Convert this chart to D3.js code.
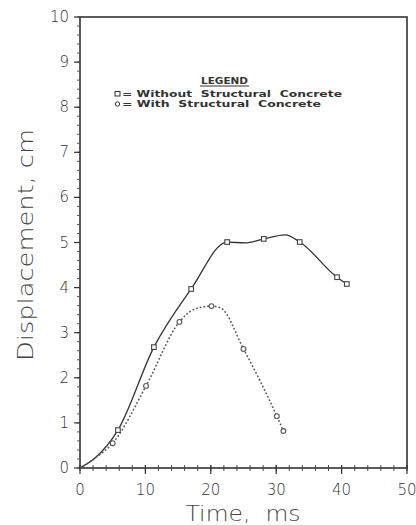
<!DOCTYPE html>
<html>
<head>
<meta charset="utf-8">
<script src="https://cdn.jsdelivr.net/npm/d3@7"></script>
<style>
  body { margin: 0; background: #fff; }
  .tick-label { font-family: 'DejaVu Sans', sans-serif; font-weight: 200; font-size: 15px; fill: #333; }
  .axis-title { font-family: 'DejaVu Sans', sans-serif; font-weight: 200; font-size: 22px; fill: #444; }
  .legend-text { font-family: 'DejaVu Sans', sans-serif; font-size: 8.5px; font-weight: bold; fill: #333; white-space: pre; }
</style>
</head>
<body>
<div id="myGraph"></div>
<script>
var xTicks = [0, 10, 20, 30, 40, 50];
var yTicks = [0, 1, 2, 3, 4, 5, 6, 7, 8, 9, 10];

// marker readings (time ms, displacement cm)
var withoutMarks = [[5.8, 0.84], [11.3, 2.68], [17.0, 3.97], [22.5, 5.01], [28.1, 5.08], [33.6, 5.01], [39.3, 4.23], [40.8, 4.08]];
var withMarks = [[5.0, 0.55], [10.1, 1.82], [15.2, 3.24], [20.1, 3.59], [25.0, 2.64], [30.1, 1.15], [31.1, 0.82]];

// traced curves
var withoutCurve = [[0, 0], [2.3, 0.22], [5.8, 0.84], [11.3, 2.68], [17.0, 3.97], [22.5, 5.01], [25.2, 4.99], [28.1, 5.08], [31.4, 5.17], [33.6, 5.01], [39.3, 4.23], [40.8, 4.08]];
var withCurve = [[0, 0], [2.3, 0.22], [5.0, 0.55], [10.1, 1.82], [15.2, 3.24], [17.5, 3.52], [20.1, 3.59], [21.5, 3.55], [25.0, 2.64], [30.1, 1.15], [31.1, 0.82]];

var legendItems = [
  { text: '= Without  Structural  Concrete', shape: 'square' },
  { text: '= With  Structural  Concrete', shape: 'circle' }
];

var W = 416, H = 525;
var m = { top: 17, right: 9, bottom: 57, left: 80 };

var svg = d3.select('#myGraph').append('svg').attr('width', W).attr('height', H);
var g = svg.append('g').attr('transform', 'translate(' + m.left + ',' + m.top + ')');
var iw = W - m.left - m.right, ih = H - m.top - m.bottom;

var x = d3.scaleLinear().domain([0, 50]).range([0, iw]);
var y = d3.scaleLinear().domain([0, 10]).range([ih, 0]);

// frame
g.append('rect').attr('width', iw).attr('height', ih)
  .attr('fill', 'none').attr('stroke', '#333').attr('stroke-width', 1.6);

// x minor ticks (cross the axis)
g.selectAll('line.xminor').data(d3.range(0, 50.01, 2)).enter().append('line')
  .attr('x1', d => x(d)).attr('x2', d => x(d))
  .attr('y1', ih - 3).attr('y2', ih + 3)
  .attr('stroke', '#444').attr('stroke-width', 1);
g.selectAll('line.xmajor').data(xTicks).enter().append('line')
  .attr('x1', d => x(d)).attr('x2', d => x(d))
  .attr('y1', ih - 3).attr('y2', ih + 6)
  .attr('stroke', '#333').attr('stroke-width', 1.2);
g.selectAll('text.xl').data(xTicks).enter().append('text')
  .attr('class', 'tick-label').attr('x', d => x(d)).attr('y', ih + 27)
  .attr('text-anchor', 'middle').text(d => d);

// y ticks
g.selectAll('line.yminor').data(d3.range(0, 10.01, 0.2)).enter().append('line')
  .attr('y1', d => y(d)).attr('y2', d => y(d))
  .attr('x1', -3).attr('x2', 1)
  .attr('stroke', '#555').attr('stroke-width', 1);
g.selectAll('line.ymajor').data(yTicks).enter().append('line')
  .attr('y1', d => y(d)).attr('y2', d => y(d))
  .attr('x1', -6).attr('x2', 0)
  .attr('stroke', '#333').attr('stroke-width', 1.2);
g.selectAll('text.yl').data(yTicks).enter().append('text')
  .attr('class', 'tick-label').attr('x', -11).attr('y', d => y(d) + 5)
  .attr('text-anchor', 'end').text(d => d);

// axis titles
svg.append('text').attr('class', 'axis-title')
  .attr('transform', 'translate(33,245) rotate(-90)')
  .attr('text-anchor', 'middle')
  .attr('textLength', 232).attr('lengthAdjust', 'spacingAndGlyphs')
  .text('Displacement, cm');
svg.append('text').attr('class', 'axis-title')
  .attr('x', 243).attr('y', 521).attr('text-anchor', 'middle')
  .attr('textLength', 115).attr('lengthAdjust', 'spacingAndGlyphs')
  .style('white-space', 'pre')
  .text('Time,  ms');

// curves
var line = d3.line().x(d => x(d[0])).y(d => y(d[1])).curve(d3.curveMonotoneX);
g.append('path').datum(withoutCurve).attr('d', line)
  .attr('fill', 'none').attr('stroke', '#333').attr('stroke-width', 1.3);
g.append('path').datum(withCurve).attr('d', line)
  .attr('fill', 'none').attr('stroke', '#555').attr('stroke-width', 1.5)
  .attr('stroke-dasharray', '1.8,2');

// markers
g.selectAll('rect.sq').data(withoutMarks).enter().append('rect')
  .attr('x', d => x(d[0]) - 2.3).attr('y', d => y(d[1]) - 2.3)
  .attr('width', 4.6).attr('height', 4.6)
  .attr('fill', '#fff').attr('stroke', '#444').attr('stroke-width', 1.1);
g.selectAll('circle.ci').data(withMarks).enter().append('circle')
  .attr('cx', d => x(d[0])).attr('cy', d => y(d[1])).attr('r', 2.4)
  .attr('fill', '#fff').attr('stroke', '#555').attr('stroke-width', 1.1);

// legend
var lg = svg.append('g');
lg.append('text').attr('class', 'legend-text').attr('x', 201).attr('y', 84)
  .attr('textLength', 47).attr('lengthAdjust', 'spacingAndGlyphs')
  .text('LEGEND');
lg.append('line').attr('x1', 200).attr('x2', 249).attr('y1', 86).attr('y2', 86)
  .attr('stroke', '#333').attr('stroke-width', 1);
var items = lg.selectAll('g.item').data(legendItems).enter().append('g')
  .attr('transform', (d, i) => 'translate(0,' + (97 + i * 10) + ')');
items.append('text').attr('class', 'legend-text').attr('x', 122).attr('y', 0)
  .attr('textLength', (d, i) => i === 0 ? 220 : 199)
  .attr('lengthAdjust', 'spacingAndGlyphs')
  .text(d => d.text);
items.filter(d => d.shape === 'square').append('rect')
  .attr('x', 115).attr('y', -5.5).attr('width', 5).attr('height', 4.5)
  .attr('fill', 'none').attr('stroke', '#333').attr('stroke-width', 1);
items.filter(d => d.shape === 'circle').append('circle')
  .attr('cx', 117.5).attr('cy', -3).attr('r', 2.2)
  .attr('fill', 'none').attr('stroke', '#333').attr('stroke-width', 1);
</script>
</body>
</html>
